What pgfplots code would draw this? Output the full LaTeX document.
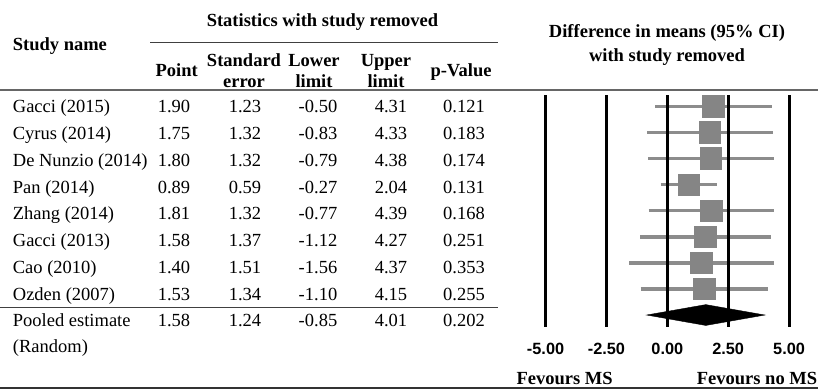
\documentclass[border=0pt]{standalone}
\usepackage{pgfplots}
\pgfplotsset{compat=1.18}
\usepackage{pgfplotstable}
\usepackage{fontspec}
\setmainfont{Liberation Serif}
\setsansfont{Liberation Sans}
\definecolor{sqgray}{HTML}{858585}
\definecolor{wgray}{HTML}{8C8C8C}

% study estimates (row, point, lower, upper)
\pgfplotstableread{
row pt lo hi
1 1.90 -0.50 4.31
2 1.75 -0.83 4.33
3 1.80 -0.79 4.38
4 0.89 -0.27 2.04
5 1.81 -0.77 4.39
6 1.58 -1.12 4.27
7 1.40 -1.56 4.37
8 1.53 -1.10 4.15
}\studies

% confidence interval segments (lower and upper limits per row)
\pgfplotstableread{
x y
-0.50 1
4.31 1
nan nan
-0.83 2
4.33 2
nan nan
-0.79 3
4.38 3
nan nan
-0.27 4
2.04 4
nan nan
-0.77 5
4.39 5
nan nan
-1.12 6
4.27 6
nan nan
-1.56 7
4.37 7
nan nan
-1.10 8
4.15 8
}\cis

\newcommand\trow[7]{%
 \node[anchor=base west] at (12.7,#1) {#2};
 \node[anchor=base] at (174,#1) {#3};
 \node[anchor=base] at (245,#1) {#4};
 \node[anchor=base] at (318,#1) {#5};
 \node[anchor=base] at (391,#1) {#6};
 \node[anchor=base] at (464,#1) {#7};
}

\begin{document}
\begin{tikzpicture}
\fontsize{18.5bp}{22bp}\selectfont
\path[use as bounding box] (0,0) rectangle (818bp,-389bp);
\begin{axis}[
  at={(521.2bp,-327bp)}, anchor=south west,
  scale only axis, width=292.2bp, height=232bp,
  xmin=-6, xmax=6, ymin=0.551, ymax=9.46, y dir=reverse,
  axis line style={draw=none},
  xtick={-5,-2.5,0,2.5,5},
  xticklabels={-5.00,-2.50,0.00,2.50,5.00},
  ytick=\empty,
  major tick length=0pt,
  xmajorgrids, grid style={black, line width=3bp},
  axis on top,
  xticklabel style={font=\fontsize{16.3bp}{19bp}\selectfont\sffamily\bfseries, anchor=center, yshift=-22bp, inner sep=0pt},
  clip=false,
  unbounded coords=jump,
]
\addplot[wgray, line width=3.2bp, no markers] table[x=x, y=y] {\cis};
\addplot[sqgray, only marks, mark=square*, mark size=10.8bp, mark options={fill=sqgray, draw=sqgray, line width=0pt}]
  table[x=pt, y=row] {\studies};
\addplot[fill=black, draw=black] coordinates {(-0.85,9) (1.58,8.6) (4.01,9) (1.58,9.4)} -- cycle;
\end{axis}
\begin{scope}[x=1bp,y=-1bp, every node/.style={inner sep=0pt}]
\node[anchor=base west, font=\bfseries] at (12.7,50) {Study name};
\node[anchor=base, font=\bfseries] at (322.5,26.5) {Statistics with study removed};
\node[anchor=base, font=\bfseries] at (176.7,76.5) {Point};
\node[anchor=base, font=\bfseries] at (244,66.7) {Standard};
\node[anchor=base, font=\bfseries] at (244,87.3) {error};
\node[anchor=base, font=\bfseries] at (314,66.7) {Lower};
\node[anchor=base, font=\bfseries] at (314,87.3) {limit};
\node[anchor=base, font=\bfseries] at (386,66.7) {Upper};
\node[anchor=base, font=\bfseries] at (386,87.3) {limit};
\node[anchor=base, font=\bfseries] at (461,76.5) {p-Value};
\node[anchor=base, font=\bfseries] at (667,37.3) {Difference in means (95\% CI)};
\node[anchor=base, font=\bfseries] at (667,61) {with study removed};
\draw[line width=1.5bp, black!75] (150,42.7) -- (498,42.7);
\draw[line width=2.2bp, black!60] (0,89.8) -- (818,89.8);
\draw[line width=1.2bp, black!75] (0,307.7) -- (498,307.7);
\draw[line width=1.5bp, black!80] (0,388) -- (818,388);
\trow{112.8}{Gacci (2015)}{1.90}{1.23}{-0.50}{4.31}{0.121}
\trow{139.6}{Cyrus (2014)}{1.75}{1.32}{-0.83}{4.33}{0.183}
\trow{166.3}{De Nunzio (2014)}{1.80}{1.32}{-0.79}{4.38}{0.174}
\trow{193.1}{Pan (2014)}{0.89}{0.59}{-0.27}{2.04}{0.131}
\trow{219.8}{Zhang (2014)}{1.81}{1.32}{-0.77}{4.39}{0.168}
\trow{246.6}{Gacci (2013)}{1.58}{1.37}{-1.12}{4.27}{0.251}
\trow{273.4}{Cao (2010)}{1.40}{1.51}{-1.56}{4.37}{0.353}
\trow{300.1}{Ozden (2007)}{1.53}{1.34}{-1.10}{4.15}{0.255}
\trow{326.9}{Pooled estimate}{1.58}{1.24}{-0.85}{4.01}{0.202}
\node[anchor=base west] at (12.7,352) {(Random)};
\node[anchor=base, font=\bfseries] at (564.7,384) {Fevours MS};
\node[anchor=base west, font=\bfseries] at (696.7,384) {Fevours no MS};
\end{scope}
\end{tikzpicture}
\end{document}
